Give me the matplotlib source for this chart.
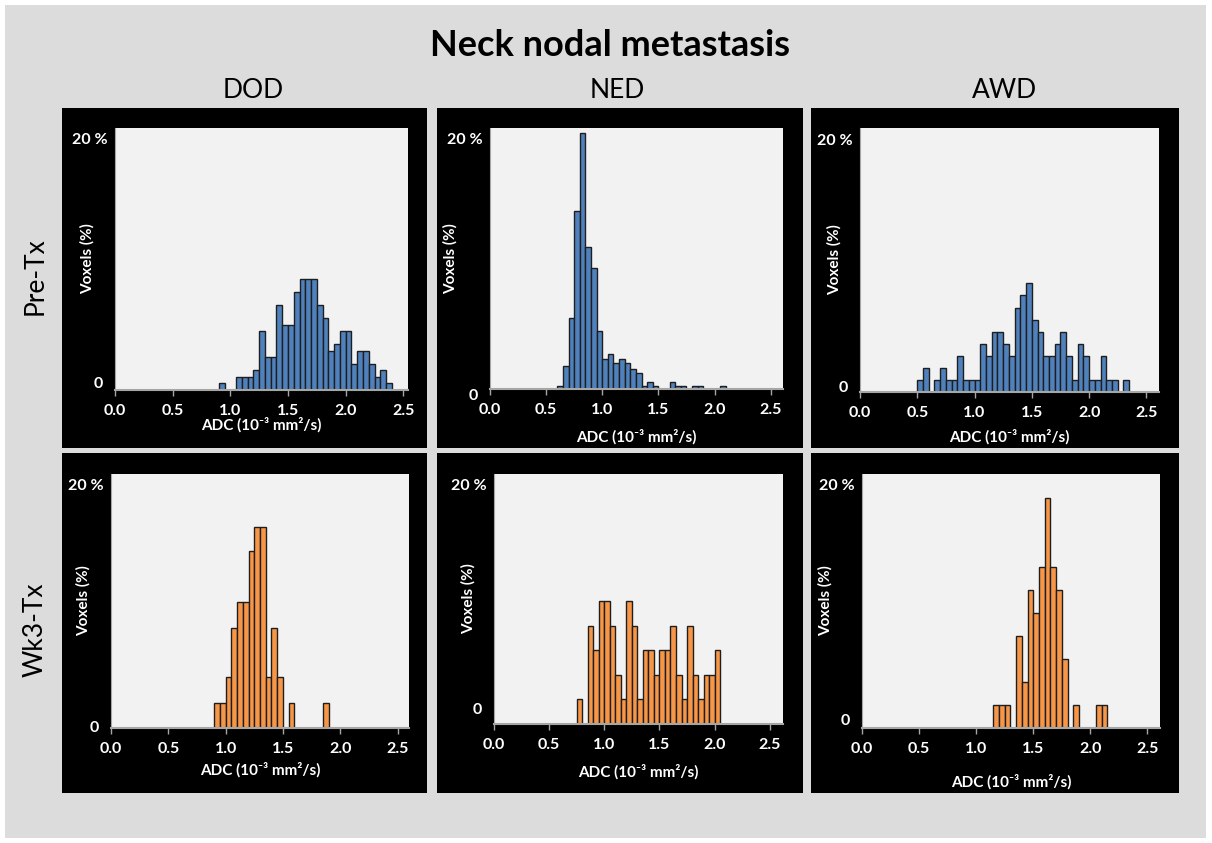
import matplotlib
matplotlib.use("Agg")
import matplotlib.pyplot as plt
from matplotlib.patches import Rectangle
import numpy as np

plt.rcParams["font.family"] = ["Lato", "DejaVu Sans"]

# ---- data: voxel % per ADC bin (bin width 0.05, first bin left edge given) ----
bin_w = 0.05

dod_pre_start = 0.90
dod_pre = [0.53, 0, 0, 1.05, 1.05, 1.05, 1.58, 4.73, 2.63, 2.63, 6.83, 5.25, 5.25,
           7.88, 8.93, 8.93, 8.93, 6.83, 5.78, 3.15, 3.68, 4.73, 4.73, 2.10, 3.15,
           3.15, 2.10, 1.05, 1.58, 0.53]

ned_pre_start = 0.60
ned_pre = [0.27, 1.83, 5.7, 14.3, 20.6, 11.4, 9.7, 4.7, 2.4, 2.8, 2.1, 2.4, 2.1,
           1.6, 1.26, 0.27, 0.54, 0.27, 0, 0, 0.54, 0.27, 0.27, 0, 0.27, 0.27,
           0, 0, 0, 0.27]

awd_pre_start = 0.50
awd_pre = [0.96, 1.92, 0, 0.96, 1.92, 0.96, 0.96, 2.88, 0.96, 0.96, 0.96, 3.84,
           2.88, 4.8, 4.8, 3.84, 2.88, 6.72, 7.68, 8.64, 5.76, 4.8, 2.88, 2.88,
           3.84, 4.8, 2.88, 0.96, 3.84, 2.88, 0.96, 0.96, 2.88, 0.96, 0.96, 0, 0.96]

dod_wk3_start = 0.90
dod_wk3 = [2.1, 2.1, 4.2, 8.3, 10.4, 10.4, 14.6, 16.6, 16.6, 4.2, 8.3, 4.2, 0,
           2.1, 0, 0, 0, 0, 0, 2.1]

ned_wk3_start = 0.75
ned_wk3 = [2.06, 0, 8.24, 6.18, 10.3, 10.3, 8.24, 4.12, 2.06, 10.3, 8.24, 2.06,
           6.18, 6.18, 4.12, 6.18, 6.18, 8.24, 4.12, 2.06, 8.24, 4.12, 2.06, 4.12,
           4.12, 6.18]

awd_wk3_start = 1.15
awd_wk3 = [1.9, 1.9, 1.9, 0, 7.6, 3.8, 11.4, 9.5, 13.3, 19.0, 13.3, 11.4, 5.7, 0,
           1.9, 0, 0, 0, 1.9, 1.9]

columns = ["DOD", "NED", "AWD"]
rows = ["Pre-Tx", "Wk3-Tx"]
xticks = [0.0, 0.5, 1.0, 1.5, 2.0, 2.5]

blue = "#4f81bd"
orange = "#f79646"

W, H = 1212, 843
fig = plt.figure(figsize=(W / 100, H / 100), dpi=100)
fig.patch.set_facecolor("white")


def frac(x0, y0, x1, y1):
    # pixel box (top-left origin) -> figure fraction [left, bottom, width, height]
    return [x0 / W, 1 - y1 / H, (x1 - x0) / W, (y1 - y0) / H]


l, b, w, h = frac(5, 5, 1206, 838)
fig.add_artist(Rectangle((l, b), w, h, transform=fig.transFigure,
                         facecolor="#dcdcdc", edgecolor="none", zorder=0))

# box, plot area, xmax, "0" label shift (px up), xlabel dist, ylabel dist
panels = [
    (dod_pre_start, dod_pre, blue, (62, 108, 427, 448), (115, 128, 408, 390), 2.54, 6, 35, 28),
    (ned_pre_start, ned_pre, blue, (437, 108, 803, 448), (490, 128, 783, 389), 2.61, -7, 48, 40),
    (awd_pre_start, awd_pre, blue, (811, 108, 1179, 448), (860, 128, 1159, 392), 2.61, 4, 45, 26),
    (dod_wk3_start, dod_wk3, orange, (62, 453, 427, 793), (111, 474, 409, 728), 2.6, 0, 42, 28),
    (ned_wk3_start, ned_wk3, orange, (437, 453, 803, 793), (494, 474, 783, 724), 2.62, 14, 48, 26),
    (awd_wk3_start, awd_wk3, orange, (811, 453, 1179, 793), (862, 474, 1160, 728), 2.61, 7, 54, 37),
]

for start, vals, col, box, area, xmax, zshift, xl_d, yl_d in panels:
    l, b, w, h = frac(*box)
    fig.add_artist(Rectangle((l, b), w, h, transform=fig.transFigure,
                             facecolor="black", edgecolor="none", zorder=1))
    ax = fig.add_axes(frac(*area))
    ax.set_zorder(2)
    ax.set_facecolor("#f2f2f2")
    vals = np.array(vals)
    left = start + bin_w * np.arange(len(vals))
    keep = vals > 0
    ax.bar(left[keep], vals[keep], width=bin_w, align="edge", color=col,
           edgecolor="#1e1e1e", linewidth=1.0)
    ax.set_xlim(0, xmax)
    ax.set_ylim(0, 21)
    for s in ["top", "right"]:
        ax.spines[s].set_visible(False)
    ax.spines["bottom"].set_color("#a6a6a6")
    ax.spines["bottom"].set_linewidth(1.5)
    ax.spines["left"].set_color("#a6a6a6")
    ax.spines["left"].set_linewidth(0.8)
    ax.set_xticks(xticks)
    ax.set_xticklabels(["%.1f" % t for t in xticks])
    ax.tick_params(axis="x", colors="#a6a6a6", length=4, width=1, pad=6,
                   labelcolor="white", labelsize=11.5)
    for t in ax.get_xticklabels():
        t.set_fontweight("bold")
    ax.set_yticks([])
    ax.annotate("20 %", xy=(0, 20), xycoords=("axes fraction", "data"),
                xytext=(-7, 0), textcoords="offset pixels", ha="right", va="center",
                color="white", fontsize=11.5, fontweight="bold")
    ax.annotate("0", xy=(0, 0), xycoords=("axes fraction", "data"),
                xytext=(-12, zshift), textcoords="offset pixels", ha="right", va="center",
                color="white", fontsize=11.5, fontweight="bold")
    pw = area[2] - area[0]
    ph = area[3] - area[1]
    ax.set_xlabel("ADC (10\u207b\u00b3 mm\u00b2/s)", color="white", fontsize=11,
                  fontweight="bold")
    ax.xaxis.label.set_va("center")
    ax.xaxis.set_label_coords(0.5, -xl_d / ph)
    ax.set_ylabel("Voxels (%)", color="white", fontsize=11, fontweight="bold")
    ax.yaxis.label.set_va("center")
    ax.yaxis.set_label_coords(-yl_d / pw, 0.5)

fig.text(610 / W, 1 - 45 / H, "Neck nodal metastasis", ha="center", va="center",
         fontsize=26, fontweight="bold")
for x, name in zip([253, 617, 1004], columns):
    fig.text(x / W, 1 - 91 / H, name, ha="center", va="center", fontsize=19)
for y, name in zip([276, 630], rows):
    fig.text(35 / W, 1 - y / H, name, ha="center", va="center", fontsize=19,
             rotation=90)

fig.savefig("out.png", dpi=100)
